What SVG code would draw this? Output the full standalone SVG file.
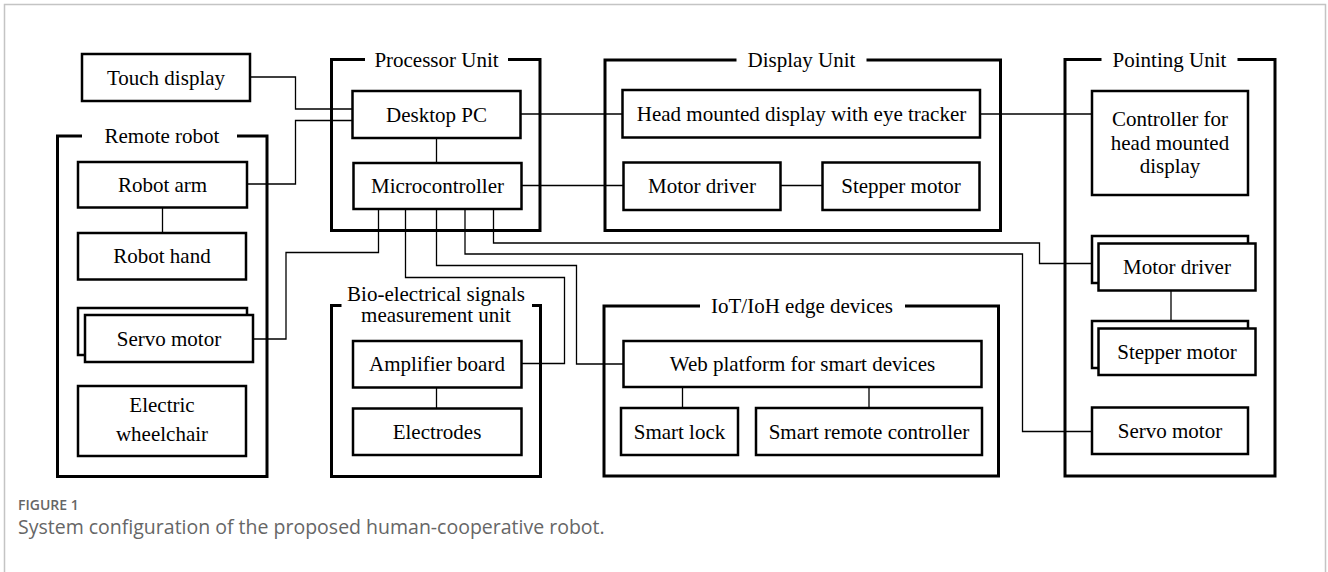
<svg xmlns="http://www.w3.org/2000/svg" width="1328" height="572" viewBox="0 0 1328 572">
  <style>
    .frame { fill: none; stroke: #c4c4c4; stroke-width: 1.5; }
    .grp { fill: none; stroke: #000; stroke-width: 3; stroke-linecap: butt; }
    .box { fill: #fff; stroke: #000; stroke-width: 2.5; }
    .wire { fill: none; stroke: #000; stroke-width: 1.3; }
    .lbl { font-family: "Liberation Serif", "Times New Roman", serif; font-size: 21px; fill: #000; text-anchor: middle; }
    .cap-head { font-family: "Open Sans", "Noto Sans", sans-serif; font-size: 14px; font-weight: 600; fill: #666; }
    .cap-text { font-family: "Open Sans", "Noto Sans", sans-serif; font-size: 19.5px; fill: #666; }
  </style>

  <rect width="1328" height="572" fill="#fff"/>
  <path class="frame" d="M4.5,572 V4.5 H1325.5 V572"/>

  <!-- connectors -->
  <g id="connectors">
    <polyline class="wire" points="250,77 295.5,77 295.5,109 352.5,109"/>
    <polyline class="wire" points="247,184 295.5,184 295.5,120.5 352.5,120.5"/>
    <line class="wire" x1="520.5" y1="114" x2="622.5" y2="114"/>
    <line class="wire" x1="980" y1="114" x2="1092" y2="114"/>
    <line class="wire" x1="436.5" y1="138" x2="436.5" y2="163"/>
    <line class="wire" x1="521.5" y1="185.5" x2="623.5" y2="185.5"/>
    <line class="wire" x1="780.5" y1="185.5" x2="822.5" y2="185.5"/>
    <polyline class="wire" points="378.5,209 378.5,252.5 286,252.5 286,339 253,339"/>
    <polyline class="wire" points="405.5,209 405.5,277.5 564.5,277.5 564.5,363.5 521.5,363.5"/>
    <polyline class="wire" points="436.5,209 436.5,265.5 576.5,265.5 576.5,364 623.5,364"/>
    <polyline class="wire" points="465,209 465,254 1022.5,254 1022.5,431.5 1092,431.5"/>
    <polyline class="wire" points="493.5,209 493.5,243 1039.5,243 1039.5,263.5 1092,263.5"/>
    <line class="wire" x1="436.5" y1="387.5" x2="436.5" y2="408.5"/>
    <line class="wire" x1="162.5" y1="207.5" x2="162.5" y2="233"/>
    <line class="wire" x1="682.5" y1="387" x2="682.5" y2="408"/>
    <line class="wire" x1="869" y1="387" x2="869" y2="408"/>
    <line class="wire" x1="1171" y1="290.5" x2="1171" y2="328.5"/>
  </g>

  <!-- unit enclosures -->
  <g id="remote-robot">
    <path class="grp" d="M82,136 H57.5 V476.5 H267 V136 H237"/>
    <text class="lbl" x="162" y="143">Remote robot</text>
  </g>
  <g id="processor-unit">
    <path class="grp" d="M365,59.5 H331.5 V230.5 H540 V59.5 H508"/>
    <text class="lbl" x="436.5" y="66.5">Processor Unit</text>
  </g>
  <g id="display-unit">
    <path class="grp" d="M736.5,60 H605 V230.5 H1000.5 V60 H866.5"/>
    <text class="lbl" x="801.5" y="67">Display Unit</text>
  </g>
  <g id="pointing-unit">
    <path class="grp" d="M1101.5,59.5 H1065 V476 H1275 V59.5 H1237.5"/>
    <text class="lbl" x="1169.5" y="66.5">Pointing Unit</text>
  </g>
  <g id="bio-unit">
    <path class="grp" d="M341.5,305.5 H331.5 V476.5 H540.5 V305.5 H532"/>
    <text class="lbl" x="436" y="301">Bio-electrical signals</text>
    <text class="lbl" x="436" y="322">measurement unit</text>
  </g>
  <g id="iot-unit">
    <path class="grp" d="M700,306 H604 V476 H998.5 V306 H905"/>
    <text class="lbl" x="802" y="313">IoT/IoH edge devices</text>
  </g>

  <!-- nodes -->
  <g id="touch-display">
    <rect class="box" x="82" y="54" width="168" height="47"/>
    <text class="lbl" x="166" y="84.5">Touch display</text>
  </g>
  <g id="robot-arm">
    <rect class="box" x="78" y="162" width="169" height="45.5"/>
    <text class="lbl" x="162.5" y="191.5">Robot arm</text>
  </g>
  <g id="robot-hand">
    <rect class="box" x="78" y="233" width="168" height="46.5"/>
    <text class="lbl" x="162" y="263">Robot hand</text>
  </g>
  <g id="servo-motor-robot">
    <rect class="box" x="78" y="308" width="169" height="47"/>
    <rect class="box" x="85" y="315" width="168" height="47"/>
    <text class="lbl" x="169" y="345.5">Servo motor</text>
  </g>
  <g id="electric-wheelchair">
    <rect class="box" x="78" y="386" width="168" height="70"/>
    <text class="lbl" x="162" y="411.5">Electric</text>
    <text class="lbl" x="162" y="440.5">wheelchair</text>
  </g>
  <g id="desktop-pc">
    <rect class="box" x="352.5" y="91" width="168" height="47"/>
    <text class="lbl" x="436.5" y="121.5">Desktop PC</text>
  </g>
  <g id="microcontroller">
    <rect class="box" x="353.5" y="163" width="168" height="46"/>
    <text class="lbl" x="437.5" y="193">Microcontroller</text>
  </g>
  <g id="hmd">
    <rect class="box" x="622.5" y="90" width="357.5" height="47.5"/>
    <text class="lbl" x="801.5" y="121">Head mounted display with eye tracker</text>
  </g>
  <g id="motor-driver-display">
    <rect class="box" x="623.5" y="162.5" width="157" height="47.5"/>
    <text class="lbl" x="702" y="193">Motor driver</text>
  </g>
  <g id="stepper-motor-display">
    <rect class="box" x="822.5" y="162.5" width="157" height="47.5"/>
    <text class="lbl" x="901" y="193">Stepper motor</text>
  </g>
  <g id="hmd-controller">
    <rect class="box" x="1092" y="91" width="156" height="104"/>
    <text class="lbl" x="1170" y="126">Controller for</text>
    <text class="lbl" x="1170" y="149.5">head mounted</text>
    <text class="lbl" x="1170" y="173">display</text>
  </g>
  <g id="motor-driver-pointing">
    <rect class="box" x="1092" y="236" width="156" height="47"/>
    <rect class="box" x="1098.5" y="243.5" width="157" height="47"/>
    <text class="lbl" x="1177" y="274">Motor driver</text>
  </g>
  <g id="stepper-motor-pointing">
    <rect class="box" x="1092" y="321" width="156" height="47"/>
    <rect class="box" x="1098.5" y="328.5" width="157" height="46.5"/>
    <text class="lbl" x="1177" y="358.5">Stepper motor</text>
  </g>
  <g id="servo-motor-pointing">
    <rect class="box" x="1092" y="407.5" width="156" height="46.5"/>
    <text class="lbl" x="1170" y="437.5">Servo motor</text>
  </g>
  <g id="amplifier-board">
    <rect class="box" x="353" y="341" width="168.5" height="46.5"/>
    <text class="lbl" x="437" y="371">Amplifier board</text>
  </g>
  <g id="electrodes">
    <rect class="box" x="353" y="408.5" width="168.5" height="46.5"/>
    <text class="lbl" x="437" y="438.5">Electrodes</text>
  </g>
  <g id="web-platform">
    <rect class="box" x="623.5" y="341" width="358" height="46"/>
    <text class="lbl" x="802.5" y="371">Web platform for smart devices</text>
  </g>
  <g id="smart-lock">
    <rect class="box" x="621" y="408" width="117" height="47"/>
    <text class="lbl" x="679.5" y="438.5">Smart lock</text>
  </g>
  <g id="smart-remote">
    <rect class="box" x="756" y="408" width="226" height="47"/>
    <text class="lbl" x="869" y="438.5">Smart remote controller</text>
  </g>

  <!-- caption -->
  <g id="caption">
    <text class="cap-head" x="18" y="510">FIGURE 1</text>
    <text class="cap-text" x="18" y="534">System configuration of the proposed human-cooperative robot.</text>
  </g>
</svg>
